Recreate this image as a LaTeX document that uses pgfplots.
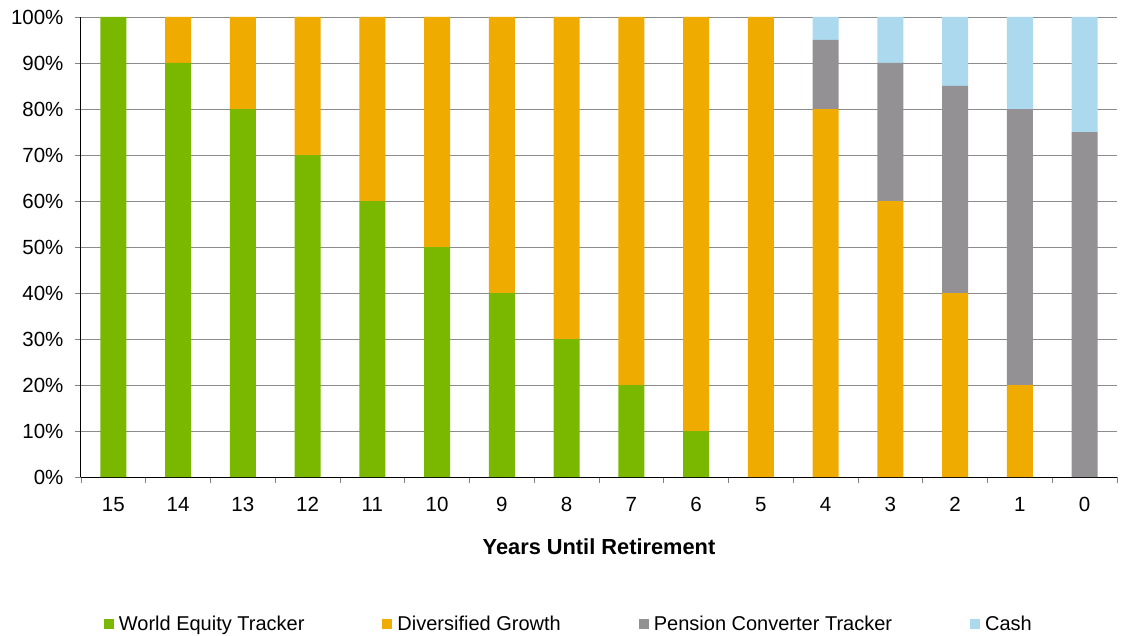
\documentclass[border=0pt]{standalone}
\usepackage{pgfplots}
\pgfplotsset{compat=1.18}
\usepackage{fontspec}
\setmainfont{Liberation Sans}
\definecolor{cGreen}{HTML}{7AB800}
\definecolor{cOrange}{HTML}{F0AB00}
\definecolor{cGray}{HTML}{939194}
\definecolor{cBlue}{HTML}{ADD9EF}
\begin{document}
\begin{tikzpicture}
\useasboundingbox (-81pt,-158pt) rectangle (1046pt,477pt);
\begin{axis}[
  scale only axis,
  width=1036pt, height=460pt,
  anchor=south west, at={(0pt,0pt)},
  ybar stacked, bar width=26pt,
  xmin=-0.5, xmax=15.5, ymin=0, ymax=100,
  axis lines=left,
  axis line style={-, black, line width=1pt},
  xtick={0,...,15},
  xticklabels={15,14,13,12,11,10,9,8,7,6,5,4,3,2,1,0},
  major x tick style={draw=none},
  minor xtick={-0.5,0.5,...,15.5},
  minor x tick style={gray, line width=0.8pt},
  minor tick length=6pt,
  ytick={0,10,...,100},
  yticklabels={0\%,10\%,20\%,30\%,40\%,50\%,60\%,70\%,80\%,90\%,100\%},
  major y tick style={gray, line width=0.8pt},
  major tick length=6pt,
  tick align=outside,
  ymajorgrids,
  major grid style={color=black!45, line width=0.9pt},
  ticklabel style={font=\fontsize{20.5}{22}\selectfont},
  xticklabel style={yshift=-11pt},
  yticklabel style={xshift=-8pt},
  xlabel={\textbf{Years Until Retirement}},
  xlabel style={font=\fontsize{21.8}{23}\selectfont, yshift=-20pt},
  legend columns=4,
  legend style={draw=none, at={(0.019,-0.32)}, anchor=west,
    font=\fontsize{20}{22}\selectfont,
    /tikz/every even column/.append style={column sep=76pt}},
  legend image code/.code={\fill[#1] (0pt,-5pt) rectangle (10pt,5pt);},
  legend cell align=left,
]
\addplot[fill=cGreen, draw=none] coordinates {(0,100) (1,90) (2,80) (3,70) (4,60) (5,50) (6,40) (7,30) (8,20) (9,10) (10,0) (11,0) (12,0) (13,0) (14,0) (15,0)};
\addplot[fill=cOrange, draw=none] coordinates {(0,0) (1,10) (2,20) (3,30) (4,40) (5,50) (6,60) (7,70) (8,80) (9,90) (10,100) (11,80) (12,60) (13,40) (14,20) (15,0)};
\addplot[fill=cGray, draw=none] coordinates {(0,0) (1,0) (2,0) (3,0) (4,0) (5,0) (6,0) (7,0) (8,0) (9,0) (10,0) (11,15) (12,30) (13,45) (14,60) (15,75)};
\addplot[fill=cBlue, draw=none] coordinates {(0,0) (1,0) (2,0) (3,0) (4,0) (5,0) (6,0) (7,0) (8,0) (9,0) (10,0) (11,5) (12,10) (13,15) (14,20) (15,25)};
\legend{\hspace{3pt}World Equity Tracker, \hspace{3pt}Diversified Growth, \hspace{3pt}Pension Converter Tracker, \hspace{3pt}Cash}
\end{axis}
\end{tikzpicture}
\end{document}
